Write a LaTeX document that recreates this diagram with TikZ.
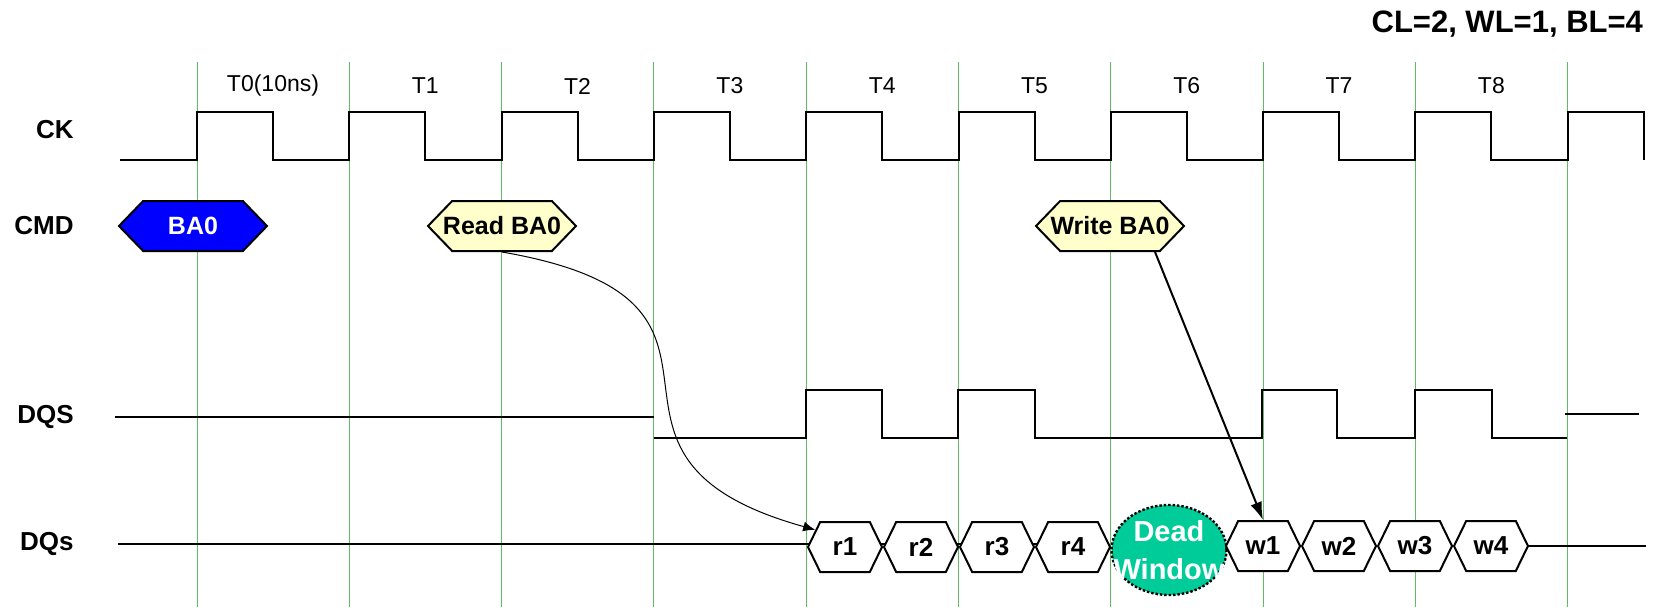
\documentclass[tikz,border=0pt]{standalone}
\usepackage{fontspec}
\setmainfont{Liberation Sans}
\usetikzlibrary{shapes.symbols,shapes.geometric,arrows.meta}
\definecolor{gridgreen}{RGB}{100,185,100}
\definecolor{cmdblue}{RGB}{0,0,255}
\definecolor{cmdyellow}{RGB}{255,255,204}
\definecolor{deadteal}{RGB}{0,204,153}
\begin{document}
\begin{tikzpicture}[x=0.5pt,y=-0.5pt,
  gridline/.style={gridgreen, line width=0.5pt},
  wave/.style={line width=1pt},
  busline/.style={line width=1.3pt},
  rowlbl/.style={anchor=east, inner sep=0pt, font=\fontsize{13}{15}\selectfont\bfseries},
  tlbl/.style={font=\fontsize{11.5}{14}\selectfont},
  cmdhex/.style={signal, signal to=east and west, signal pointer angle=92, draw, line width=1pt,
    minimum width=74pt, minimum height=25pt, inner xsep=-6pt, inner ysep=0pt, font=\fontsize{12.5}{15}\selectfont\bfseries},
  datahex/.style={signal, signal to=east and west, signal pointer angle=128, draw, fill=white, line width=1pt,
    minimum width=37pt, minimum height=25pt, inner sep=0pt, font=\fontsize{13}{15}\selectfont\bfseries},
  deadwin/.style={ellipse, draw, densely dotted, line width=1.2pt, fill=deadteal,
    minimum width=57.5pt, minimum height=45pt, inner sep=0pt},
  deadtxt/.style={text=white, align=center, inner sep=0pt, font=\fontsize{14.5}{19}\selectfont\bfseries}]
\useasboundingbox (0,0) rectangle (1662,607);

% time grid
\foreach \k in {0,...,9}
  \coordinate (t\k) at (197+152.3*\k,62);
\foreach \k in {0,...,9}
  \draw[gridline] (t\k) -- ++(0,545);
\node[tlbl] (tl0) at (273,86) {T0(10ns)};
\foreach \k in {1,...,8}
  \node[tlbl] (tl\k) at (273+152.3*\k,86) {T\k};
\node[anchor=east, font=\fontsize{15.5}{18}\selectfont\bfseries] (cfg) at (1650,24) {CL=2, WL=1, BL=4};

% row labels
\node[rowlbl] (ck) at (74,130) {CK};
\node[rowlbl] (cmd) at (74,226) {CMD};
\node[rowlbl] (dqs) at (74,417) {DQS};
\node[rowlbl] (dq) at (74,544) {DQs};

% clock
\draw[wave] (120,160) \foreach \k in {0,...,9} { -- (197+152.3*\k,160) -- ++(0,-48) -- ++(76,0) -- ++(0,48) };

% commands
\node[cmdhex, fill=cmdblue, text=white] (ba0) at (193,226) {BA0};
\node[cmdhex, fill=cmdyellow] (rba) at (502,226) {Read BA0};
\node[cmdhex, fill=cmdyellow] (wba) at (1110,226) {Write BA0};

% strobe
\draw[busline] (115,417) -- (654,417);
\draw[busline] (654,438) -- (806,438) -- (806,390) -- (882,390) -- (882,438) -- (958,438) -- (958,390)
  -- (1035,390) -- (1035,438) -- (1262,438) -- (1262,390) -- (1337,390) -- (1337,438) -- (1415,438)
  -- (1415,390) -- (1492,390) -- (1492,438) -- (1567,438);
\draw[busline] (1565,414) -- (1639,414);

% data
\draw[busline] (118,544) -- (1109,544);
\foreach \j in {1,...,4}
  \node[datahex] (r\j) at (769+76*\j,547) {r\j};
\node[deadwin] (dead) at (1169,550) {};
\node[deadtxt] (deadlbl) at (dead.center) {Dead\\Window};
\foreach \j in {1,...,4}
  \node[datahex] (w\j) at (1187+76*\j,546) {w\j};
\draw[busline] (w4.east) -- ++(117,0);

% latency arrows
\draw[line width=0.5pt, -{Latex[length=6pt,width=5pt]}] (rba.south) .. controls +(290,50) and +(-270,-75) .. (r1.150);
\draw[line width=1pt, -{Latex[length=9pt,width=6pt]}] (wba.-30) -- (w1.north);
\end{tikzpicture}
\end{document}
